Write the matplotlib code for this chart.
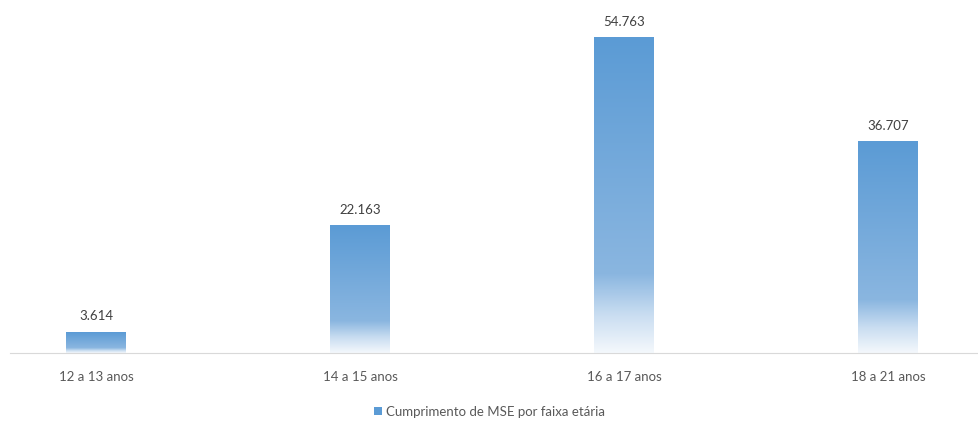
import matplotlib.pyplot as plt
import numpy as np
from matplotlib.colors import LinearSegmentedColormap
from matplotlib.patches import Patch

categories = ["12 a 13 anos", "14 a 15 anos", "16 a 17 anos", "18 a 21 anos"]
values = [3614, 22163, 54763, 36707]
series_name = "Cumprimento de MSE por faixa etária"

plt.rcParams['font.family'] = ['Lato', 'DejaVu Sans']
grey = "#595959"

fig = plt.figure(figsize=(9.79, 4.21), dpi=100)
ax = fig.add_axes([0.0102, 0.1615, 0.9898, 0.82])

x = np.arange(len(categories))
bars = ax.bar(x, values, width=0.227, color="none", edgecolor="none")

# vertical gradient, dark at the top, fading to white at the base
cmap = LinearSegmentedColormap.from_list(
    "fade", [(0.0, "#f4f8fc"), (0.12, "#c9ddf1"), (0.25, "#8ab6e0"),
             (1.0, "#5b9bd5")])
grad = np.linspace(0, 1, 256).reshape(-1, 1)
for b in bars:
    x0, w, h = b.get_x(), b.get_width(), b.get_height()
    ax.imshow(grad, cmap=cmap, origin="lower", aspect="auto",
              extent=[x0, x0 + w, 0, h], zorder=2)

for xi, v in zip(x, values):
    ax.annotate(f"{v/1000:.3f}", xy=(xi, v), xytext=(0, 7),
                textcoords="offset points", ha="center", va="bottom",
                fontsize=9.5, color="#404040")

ax.set_xlim(-0.326, 3.345)
ax.set_ylim(0, 60000)
ax.set_xticks(x)
ax.set_xticklabels(categories, fontsize=9.5, color=grey)
ax.tick_params(axis="x", length=0, pad=13)
ax.get_yaxis().set_visible(False)
for spine in ["left", "top", "right"]:
    ax.spines[spine].set_visible(False)
ax.spines["bottom"].set_color("#d9d9d9")
ax.spines["bottom"].set_zorder(3)

handle = Patch(facecolor="#5b9bd5", edgecolor="none")
fig.legend([handle], [series_name], loc="center", bbox_to_anchor=(0.5, 0.022),
           frameon=False, fontsize=9.5, labelcolor=grey,
           handlelength=0.6, handleheight=0.6, handletextpad=0.3)

fig.savefig("out.png", dpi=100)
